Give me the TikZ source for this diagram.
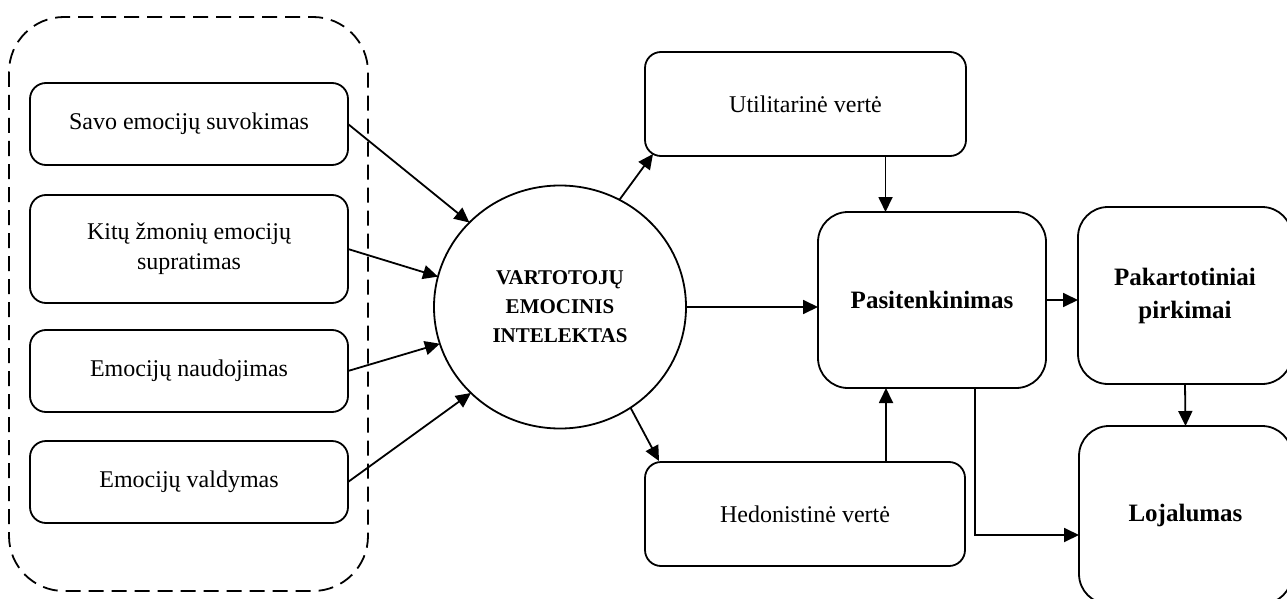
\documentclass[tikz,border=0pt]{standalone}
\usepackage{fontspec}
\setmainfont{Liberation Serif}
\usetikzlibrary{arrows.meta,shapes.geometric,calc}
\tikzset{
  base/.style={draw, line width=1.8pt, inner sep=0pt, outer sep=0pt, align=center},
  smallbox/.style={base, rectangle, rounded corners=16pt, font=\fontsize{24}{30}\selectfont},
  bigbox/.style={base, rectangle, rounded corners=30pt, font=\fontsize{25}{34}\selectfont\bfseries},
  hub/.style={base, ellipse, minimum width=252pt, minimum height=243pt, font=\fontsize{21}{29}\selectfont\bfseries},
  groupbox/.style={draw, line width=1.8pt, dash pattern=on 15pt off 8pt, rounded corners=55pt},
  arr/.style={line width=1.8pt, -{Triangle[length=15pt,width=14pt]}},
}
\begin{document}
\begin{tikzpicture}[x=1pt,y=-1pt]
\useasboundingbox (0,0) rectangle (1287,599);
\draw[groupbox] (9,17) rectangle (368,591);
\node[smallbox, minimum width=318pt, minimum height=82pt] (b1) at (189,124) {Savo emocijų suvokimas};
\node[smallbox, minimum width=318pt, minimum height=108pt] (b2) at (189,249) {Kitų žmonių emocijų\\supratimas};
\node[smallbox, minimum width=318pt, minimum height=82pt] (b3) at (189,371) {Emocijų naudojimas};
\node[smallbox, minimum width=318pt, minimum height=82pt] (b4) at (189,482) {Emocijų valdymas};
\node[hub] (circ) at (560,307) {VARTOTOJŲ\\EMOCINIS\\INTELEKTAS};
\node[smallbox, minimum width=321pt, minimum height=104pt] (util) at (805.5,104) {Utilitarinė vertė};
\node[smallbox, minimum width=320pt, minimum height=104pt] (hed) at (805,514) {Hedonistinė vertė};
\node[bigbox, minimum width=228pt, minimum height=176pt] (pasit) at (932,300) {Pasitenkinimas};
\node[bigbox, minimum width=214pt, minimum height=177pt] (pak) at (1185,295.5) {\raisebox{-6pt}{\begin{tabular}{@{}c@{}}Pakartotiniai\\[-1pt]pirkimai\end{tabular}}};
\node[bigbox, minimum width=213pt, minimum height=178pt] (loj) at (1185.5,515) {Lojalumas};
\draw[arr] (b1.east) -- (circ.137);
\draw[arr] (b2.east) -- (circ.166);
\draw[arr] (b3.east) -- (circ.197);
\draw[arr] (b4.east) -- (circ.224);
\draw[arr] (circ.61) -- ([xshift=8pt,yshift=2pt]util.south west);
\draw[arr] (circ.-55) -- ([xshift=14pt,yshift=1pt]hed.north west);
\draw[arr] (circ.east) -- (circ.east -| pasit.west);
\draw[arr] ([xshift=80pt]util.south) -- ([xshift=80pt]util.south |- pasit.north);
\draw[arr] ([xshift=81pt]hed.north) -- ([xshift=81pt]hed.north |- pasit.south);
\draw[arr] (pasit.east) -- (pasit.east -| pak.west);
\draw[arr] (pak.south) -- (loj.north);
\draw[arr] ([xshift=43pt]pasit.south) |- ([yshift=-20pt]loj.west);
\end{tikzpicture}
\end{document}
